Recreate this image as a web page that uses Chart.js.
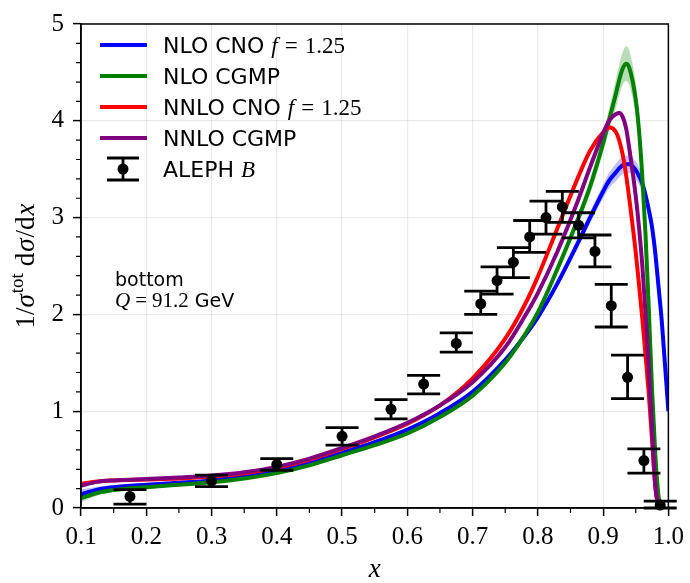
<!DOCTYPE html>
<html lang="en">
<head>
  <meta charset="UTF-8">
  <title>bottom fragmentation, Q = 91.2 GeV</title>
  <script src="https://cdn.jsdelivr.net/npm/chart.js"></script>
  <style>
    body { margin: 0; padding: 0; background: #fff; }
    #wrap { position: relative; width: 690px; height: 583px; }
  </style>
</head>
<body>
  <div id="wrap"><canvas id="fragChart" width="690" height="583"></canvas></div>

  <script>
    // x grid shared by the theory curves
    const xs = [0.1, 0.125, 0.15, 0.2, 0.25, 0.3, 0.35, 0.4, 0.45, 0.5, 0.55, 0.6, 0.65, 0.7, 0.75, 0.78, 0.8,
                0.83, 0.86, 0.88, 0.9, 0.91, 0.92, 0.925, 0.93, 0.935, 0.94, 0.95, 0.955, 0.96, 0.965, 0.97,
                0.975, 0.98, 0.985, 0.99, 1.0];

    const nloCno = [0.14, 0.19, 0.215, 0.24, 0.26, 0.285, 0.33, 0.385, 0.465, 0.57, 0.68, 0.81, 0.98, 1.20, 1.53, 1.78, 1.97,
                    2.32, 2.72, 3.00, 3.27, 3.39, 3.47, 3.51, 3.54, 3.55, 3.55, 3.49, 3.43, 3.35, 3.23, 3.08,
                    2.90, 2.63, 2.28, 1.92, 1.00];
    const nloCnoHi = [0.19, 0.22, 0.235, 0.255, 0.275, 0.30, 0.345, 0.40, 0.48, 0.585, 0.70, 0.83, 1.0, 1.22, 1.555, 1.81, 2.00,
                      2.36, 2.77, 3.06, 3.34, 3.47, 3.56, 3.60, 3.63, 3.64, 3.64, 3.58, 3.52, 3.44, 3.32, 3.17,
                      2.99, 2.73, 2.39, 2.04, 1.12];
    const nloCnoLo = [0.09, 0.16, 0.195, 0.225, 0.245, 0.27, 0.315, 0.37, 0.45, 0.555, 0.66, 0.79, 0.96, 1.18, 1.505, 1.75, 1.94,
                      2.28, 2.67, 2.94, 3.20, 3.31, 3.38, 3.42, 3.45, 3.46, 3.46, 3.40, 3.34, 3.26, 3.14, 2.99,
                      2.81, 2.53, 2.17, 1.80, 0.88];

    const nloCgmp = [0.10, 0.155, 0.185, 0.215, 0.24, 0.265, 0.305, 0.36, 0.44, 0.545, 0.65, 0.77, 0.94, 1.16, 1.50, 1.79, 2.02,
                     2.47, 2.96, 3.32, 3.77, 4.03, 4.29, 4.43, 4.54, 4.59, 4.55, 4.22, 3.90, 3.43, 2.82, 2.06,
                     1.22, 0.55, 0.12, 0.0, null];
    const nloCgmpHi = [0.14, 0.18, 0.205, 0.23, 0.255, 0.28, 0.32, 0.375, 0.455, 0.56, 0.67, 0.79, 0.96, 1.18, 1.53, 1.83, 2.06,
                       2.52, 3.02, 3.40, 3.87, 4.15, 4.44, 4.59, 4.71, 4.77, 4.73, 4.39, 4.07, 3.59, 2.97, 2.19,
                       1.32, 0.62, 0.15, 0.0, null];
    const nloCgmpLo = [0.06, 0.13, 0.165, 0.20, 0.225, 0.25, 0.29, 0.345, 0.425, 0.53, 0.63, 0.75, 0.92, 1.14, 1.47, 1.75, 1.98,
                       2.42, 2.90, 3.24, 3.67, 3.91, 4.14, 4.27, 4.37, 4.41, 4.37, 4.05, 3.73, 3.27, 2.67, 1.93,
                       1.12, 0.48, 0.09, 0.0, null];

    const nnloCno = [0.25, 0.275, 0.285, 0.295, 0.305, 0.325, 0.36, 0.415, 0.50, 0.61, 0.73, 0.87, 1.06, 1.34, 1.75, 2.10, 2.39,
                     2.89, 3.39, 3.69, 3.88, 3.93, 3.88, 3.79, 3.65, 3.45, 3.20, 2.64, 2.31, 1.96, 1.58, 1.18,
                     0.70, 0.22, 0.0, null, null];

    const nnloCgmp = [0.23, 0.27, 0.285, 0.30, 0.315, 0.335, 0.37, 0.425, 0.51, 0.62, 0.74, 0.88, 1.06, 1.30, 1.66, 1.98, 2.22,
                      2.65, 3.15, 3.52, 3.87, 4.01, 4.07, 4.08, 4.04, 3.93, 3.72, 3.22, 2.90, 2.51, 2.01, 1.45,
                      0.80, 0.22, 0.0, null, null];

    // ALEPH B data with error bars
    const alephX  = [0.175, 0.3, 0.4, 0.5, 0.575, 0.625, 0.675, 0.7125, 0.7375, 0.7625, 0.7875, 0.8125, 0.8375, 0.8625, 0.8875, 0.9125, 0.9375, 0.9625, 0.9875];
    const alephY  = [0.12, 0.28, 0.45, 0.74, 1.02, 1.28, 1.70, 2.11, 2.35, 2.54, 2.80, 3.00, 3.11, 2.92, 2.65, 2.09, 1.35, 0.49, 0.03];
    const alephHi = [0.19, 0.34, 0.51, 0.83, 1.12, 1.37, 1.81, 2.24, 2.49, 2.69, 2.97, 3.17, 3.27, 3.05, 2.82, 2.31, 1.58, 0.61, 0.07];
    const alephLo = [0.04, 0.22, 0.39, 0.65, 0.92, 1.18, 1.61, 2.00, 2.21, 2.38, 2.64, 2.83, 2.95, 2.79, 2.49, 1.87, 1.13, 0.36, 0.0];

    const xMinor = [0.15, 0.25, 0.35, 0.45, 0.55, 0.65, 0.75, 0.85, 0.95];
    const yMinor = [0.2, 0.4, 0.6, 0.8, 1.2, 1.4, 1.6, 1.8, 2.2, 2.4, 2.6, 2.8, 3.2, 3.4, 3.6, 3.8, 4.2, 4.4, 4.6, 4.8];

    const SANS = '"DejaVu Sans"';
    const SERIF = '"Liberation Serif"';

    function pts(arr) {
      return xs.map((x, i) => ({ x: x, y: arr[i] }));
    }

    function curve(label, arr, color, order) {
      return {
        label: label,
        data: pts(arr),
        borderColor: color,
        borderWidth: 4,
        pointRadius: 0,
        fill: false,
        cubicInterpolationMode: 'monotone',
        order: order
      };
    }

    function band(arr, fillColor, toNext, order) {
      return {
        data: pts(arr),
        borderWidth: 0,
        borderColor: 'rgba(0,0,0,0)',
        backgroundColor: fillColor,
        pointRadius: 0,
        fill: toNext ? '+1' : false,
        cubicInterpolationMode: 'monotone',
        order: order
      };
    }

    // draw a run of text pieces with different fonts, left to right
    function richText(ctx, x, y, parts) {
      parts.forEach(p => {
        ctx.font = p.font;
        ctx.fillText(p.text, x, y + (p.dy || 0));
        x += ctx.measureText(p.text).width + (p.gap || 0);
      });
      return x;
    }

    function richWidth(ctx, parts) {
      let w = 0;
      parts.forEach(p => {
        ctx.font = p.font;
        w += ctx.measureText(p.text).width + (p.gap || 0);
      });
      return w;
    }

    const fLabel = [
      { text: 'f', font: `italic 23px ${SERIF}`, gap: 7 },
      { text: '=', font: `23px ${SERIF}`, gap: 7 },
      { text: '1.25', font: `23px ${SERIF}` }
    ];

    const legendRows = [
      { color: '#0000ff', parts: [{ text: 'NLO CNO', font: `22px ${SANS}`, gap: 7 }].concat(fLabel) },
      { color: '#008000', parts: [{ text: 'NLO CGMP', font: `22px ${SANS}` }] },
      { color: '#ff0000', parts: [{ text: 'NNLO CNO', font: `22px ${SANS}`, gap: 7 }].concat(fLabel) },
      { color: '#800080', parts: [{ text: 'NNLO CGMP', font: `22px ${SANS}` }] }
    ];

    const extras = {
      id: 'extras',
      afterDatasetsDraw(chart) {
        const { ctx, scales: { x, y } } = chart;
        ctx.save();
        ctx.strokeStyle = '#000';
        ctx.fillStyle = '#000';
        ctx.lineWidth = 2.8;
        alephX.forEach((xv, i) => {
          const px = x.getPixelForValue(xv);
          const top = y.getPixelForValue(alephHi[i]);
          const bot = y.getPixelForValue(alephLo[i]);
          ctx.beginPath();
          ctx.moveTo(px, top); ctx.lineTo(px, bot);
          ctx.moveTo(px - 16.5, top); ctx.lineTo(px + 16.5, top);
          ctx.moveTo(px - 16.5, bot); ctx.lineTo(px + 16.5, bot);
          ctx.stroke();
          ctx.beginPath();
          ctx.arc(px, y.getPixelForValue(alephY[i]), 5.5, 0, Math.PI * 2);
          ctx.fill();
        });
        ctx.restore();
      },
      afterDraw(chart) {
        const { ctx, chartArea: a, scales: { x, y } } = chart;
        ctx.save();

        // frame
        ctx.strokeStyle = '#000';
        ctx.lineWidth = 1.5;
        ctx.strokeRect(a.left, a.top, a.right - a.left, a.bottom - a.top);

        // minor ticks
        ctx.lineWidth = 1.2;
        ctx.beginPath();
        xMinor.forEach(v => {
          const px = x.getPixelForValue(v);
          ctx.moveTo(px, a.bottom); ctx.lineTo(px, a.bottom + 5);
        });
        yMinor.forEach(v => {
          const py = y.getPixelForValue(v);
          ctx.moveTo(a.left, py); ctx.lineTo(a.left - 5, py);
        });
        ctx.stroke();

        // legend
        ctx.fillStyle = '#000';
        ctx.textBaseline = 'alphabetic';
        legendRows.forEach((row, i) => {
          const cy = 45 + i * 31;
          ctx.strokeStyle = row.color;
          ctx.lineWidth = 4;
          ctx.beginPath();
          ctx.moveTo(100, cy); ctx.lineTo(147, cy);
          ctx.stroke();
          richText(ctx, 163, cy + 8, row.parts);
        });
        // errorbar symbol for ALEPH
        ctx.strokeStyle = '#000';
        ctx.lineWidth = 2.8;
        ctx.beginPath();
        ctx.moveTo(123, 158); ctx.lineTo(123, 180);
        ctx.moveTo(107, 158); ctx.lineTo(139, 158);
        ctx.moveTo(107, 180); ctx.lineTo(139, 180);
        ctx.stroke();
        ctx.beginPath();
        ctx.arc(123, 169, 5.5, 0, Math.PI * 2);
        ctx.fill();
        richText(ctx, 163, 177, [
          { text: 'ALEPH', font: `22px ${SANS}`, gap: 7 },
          { text: 'B', font: `italic 23px ${SERIF}` }
        ]);

        // annotation
        richText(ctx, 115, 286, [{ text: 'bottom', font: `19px ${SANS}` }]);
        richText(ctx, 115, 307, [
          { text: 'Q', font: `italic 21px ${SERIF}`, gap: 5 },
          { text: '=', font: `21px ${SERIF}`, gap: 5 },
          { text: '91.2', font: `21px ${SERIF}`, gap: 6 },
          { text: 'GeV', font: `19px ${SANS}` }
        ]);

        // x label
        ctx.font = `italic 27px ${SERIF}`;
        ctx.textAlign = 'center';
        ctx.fillText('x', (a.left + a.right) / 2, 577);
        ctx.textAlign = 'left';

        // y label, rotated
        const yParts = [
          { text: '1/', font: `27px ${SERIF}` },
          { text: 'σ', font: `italic 27px ${SERIF}`, gap: 1 },
          { text: 'tot', font: `19px ${SERIF}`, dy: -11, gap: 7 },
          { text: 'd', font: `27px ${SERIF}`, gap: 1 },
          { text: 'σ', font: `italic 27px ${SERIF}`, gap: 1 },
          { text: '/d', font: `27px ${SERIF}`, gap: 1 },
          { text: 'x', font: `italic 27px ${SERIF}` }
        ];
        const w = richWidth(ctx, yParts);
        ctx.translate(34, (a.top + a.bottom) / 2);
        ctx.rotate(-Math.PI / 2);
        richText(ctx, -w / 2, 0, yParts);

        ctx.restore();
      }
    };

    const tickFont = { family: 'Liberation Serif', size: 25 };

    new Chart(document.getElementById('fragChart'), {
      type: 'line',
      data: {
        datasets: [
          curve('NNLO CGMP', nnloCgmp, '#800080', 1),
          curve('NNLO CNO f = 1.25', nnloCno, '#ff0000', 2),
          curve('NLO CGMP', nloCgmp, '#008000', 3),
          curve('NLO CNO f = 1.25', nloCno, '#0000ff', 4),
          band(nloCgmpHi, 'rgba(0,128,0,0.28)', true, 5),
          band(nloCgmpLo, null, false, 6),
          band(nloCnoHi, 'rgba(0,0,255,0.25)', true, 7),
          band(nloCnoLo, null, false, 8)
        ]
      },
      options: {
        responsive: false,
        animation: false,
        events: [],
        devicePixelRatio: 1,
        layout: { padding: { left: 0, top: 18, right: 21, bottom: 0 } },
        plugins: {
          legend: { display: false },
          tooltip: { enabled: false }
        },
        scales: {
          x: {
            type: 'linear',
            min: 0.1,
            max: 1.0,
            afterFit: s => { s.height = 75; },
            ticks: {
              stepSize: 0.1,
              color: '#000',
              font: tickFont,
              padding: 6,
              maxRotation: 0,
              callback: v => v.toFixed(1)
            },
            grid: { color: 'rgba(0,0,0,0.08)', lineWidth: 1.2, tickColor: '#000', tickLength: 8, tickWidth: 1.5 },
            border: { display: true, color: '#000', width: 1.5 }
          },
          y: {
            min: 0,
            max: 5,
            afterFit: s => { s.width = 81; },
            ticks: {
              stepSize: 1,
              color: '#000',
              font: tickFont,
              padding: 9,
              callback: v => String(v)
            },
            grid: { color: 'rgba(0,0,0,0.08)', lineWidth: 1.2, tickColor: '#000', tickLength: 8, tickWidth: 1.5 },
            border: { display: true, color: '#000', width: 1.5 }
          }
        }
      },
      plugins: [extras]
    });
  </script>
</body>
</html>
